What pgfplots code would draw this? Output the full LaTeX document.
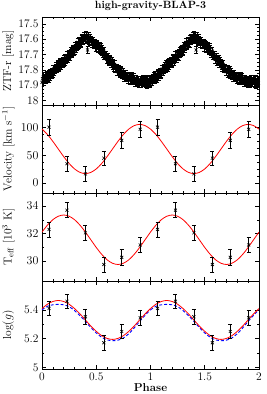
\documentclass[border=0pt]{standalone}
\usepackage{pgfplots}
\pgfplotsset{compat=1.18}
\usepackage{pgfplotstable}

\pgfplotstableread{
x y
0.00 17.882
0.01 17.858
0.02 17.866
0.03 17.843
0.04 17.863
0.05 17.847
0.06 17.857
0.07 17.823
0.08 17.832
0.09 17.812
0.10 17.822
0.11 17.795
0.12 17.800
0.13 17.774
0.14 17.791
0.15 17.772
0.16 17.783
0.17 17.750
0.18 17.760
0.19 17.741
0.20 17.752
0.21 17.726
0.22 17.732
0.23 17.707
0.24 17.725
0.25 17.707
0.26 17.715
0.27 17.679
0.28 17.686
0.29 17.664
0.30 17.672
0.31 17.644
0.32 17.648
0.33 17.621
0.34 17.637
0.35 17.617
0.36 17.627
0.37 17.593
0.38 17.602
0.39 17.582
0.40 17.592
0.41 17.578
0.42 17.596
0.43 17.583
0.44 17.613
0.45 17.607
0.46 17.631
0.47 17.611
0.48 17.634
0.49 17.628
0.50 17.652
0.51 17.638
0.52 17.656
0.53 17.643
0.54 17.673
0.55 17.667
0.56 17.695
0.57 17.679
0.58 17.706
0.59 17.704
0.60 17.732
0.61 17.720
0.62 17.740
0.63 17.729
0.64 17.761
0.65 17.757
0.66 17.783
0.67 17.765
0.68 17.790
0.69 17.786
0.70 17.812
0.71 17.798
0.72 17.816
0.73 17.803
0.74 17.833
0.75 17.827
0.76 17.849
0.77 17.827
0.78 17.848
0.79 17.840
0.80 17.862
0.81 17.845
0.82 17.860
0.83 17.844
0.84 17.871
0.85 17.862
0.86 17.882
0.87 17.858
0.88 17.877
0.89 17.867
0.90 17.887
0.91 17.867
0.92 17.879
0.93 17.860
0.94 17.884
0.95 17.872
0.96 17.889
0.97 17.862
0.98 17.878
0.99 17.865
}\lc

\pgfplotstableread{
x y
0.005 17.858
0.015 17.877
0.025 17.856
0.035 17.864
0.045 17.838
0.055 17.851
0.065 17.831
0.075 17.841
0.085 17.820
0.095 17.830
0.105 17.797
0.115 17.813
0.125 17.789
0.135 17.794
0.145 17.765
0.155 17.777
0.165 17.758
0.175 17.769
0.185 17.749
0.195 17.760
0.205 17.727
0.215 17.744
0.225 17.721
0.235 17.727
0.245 17.699
0.255 17.710
0.265 17.688
0.275 17.696
0.285 17.673
0.295 17.681
0.305 17.646
0.315 17.661
0.325 17.636
0.335 17.640
0.345 17.610
0.355 17.621
0.365 17.601
0.375 17.611
0.385 17.590
0.395 17.600
0.405 17.573
0.415 17.602
0.425 17.591
0.435 17.609
0.445 17.593
0.455 17.618
0.465 17.612
0.475 17.636
0.485 17.629
0.495 17.653
0.505 17.633
0.515 17.662
0.525 17.651
0.535 17.669
0.545 17.653
0.555 17.680
0.565 17.678
0.575 17.706
0.585 17.703
0.595 17.731
0.605 17.714
0.615 17.745
0.625 17.736
0.635 17.756
0.645 17.742
0.655 17.769
0.665 17.765
0.675 17.791
0.685 17.786
0.695 17.812
0.705 17.793
0.715 17.822
0.725 17.811
0.735 17.829
0.745 17.813
0.755 17.837
0.765 17.829
0.775 17.851
0.785 17.842
0.795 17.864
0.805 17.842
0.815 17.868
0.825 17.854
0.835 17.869
0.845 17.850
0.855 17.871
0.865 17.861
0.875 17.881
0.885 17.870
0.895 17.890
0.905 17.865
0.915 17.888
0.925 17.871
0.935 17.883
0.945 17.861
0.955 17.880
0.965 17.867
0.975 17.884
0.985 17.870
0.995 17.887
}\lcb

\pgfplotstableread{
x y e
0.065 101 15
0.230 35 14
0.400 16.5 13
0.570 45 13
0.735 77 14
0.905 97 15
1.065 101 15
1.230 35 14
1.400 16.5 13
1.570 45 13
1.735 77 14
1.905 97 15
}\vel

\pgfplotstableread{
x y e
0.065 32.30 0.55
0.230 33.70 0.55
0.400 32.05 0.55
0.570 29.75 0.55
0.735 30.27 0.55
0.905 31.17 0.55
1.065 32.30 0.55
1.230 33.70 0.55
1.400 32.05 0.55
1.570 29.75 0.55
1.735 30.27 0.55
1.905 31.17 0.55
}\teff

\pgfplotstableread{
x y e
0.065 5.410 0.05
0.230 5.460 0.05
0.400 5.352 0.05
0.570 5.172 0.05
0.735 5.250 0.05
0.905 5.345 0.05
1.065 5.410 0.05
1.230 5.460 0.05
1.400 5.352 0.05
1.570 5.172 0.05
1.735 5.250 0.05
1.905 5.345 0.05
}\logg

\pgfplotstableread{
x v t r b
0.00 97.5 32.11 5.409 5.400
0.05 87.7 32.61 5.439 5.425
0.10 75.25 33.01 5.458 5.435
0.15 61.5 33.26 5.465 5.438
0.20 47.75 33.35 5.458 5.435
0.25 35.3 33.26 5.439 5.422
0.30 25.5 33.01 5.409 5.395
0.35 19.2 32.61 5.372 5.360
0.40 17.0 32.11 5.330 5.320
0.45 19.2 31.55 5.288 5.278
0.50 25.5 30.99 5.251 5.240
0.55 35.3 30.49 5.221 5.210
0.60 47.75 30.09 5.202 5.192
0.65 61.5 29.84 5.195 5.186
0.70 75.25 29.75 5.202 5.190
0.75 87.7 29.84 5.221 5.205
0.80 97.5 30.09 5.251 5.235
0.85 103.8 30.49 5.288 5.275
0.90 106.0 30.99 5.330 5.320
0.95 103.8 31.55 5.372 5.362
1.00 97.5 32.11 5.409 5.400
}\model

\pgfplotsset{
  panel/.style={
    width=217pt, height=88pt, scale only axis,
    anchor=south west,
    xmin=0, xmax=2, xtick={0,0.5,1,1.5,2}, minor x tick num=4,
    tick align=inside, major tick length=4pt, minor tick length=2pt,
    every tick/.style={black, line width=0.5pt},
    axis line style={line width=0.5pt},
    xticklabels={},
    tick label style={font=\fontsize{11.5}{13}\selectfont},
    ylabel style={at={(axis description cs:-0.155,0.5)}, anchor=center,
      font=\fontsize{11.5}{13}\selectfont},
  },
  obs/.style={black, only marks, mark=x, mark size=2.1pt,
    mark options={line width=0.6pt, solid},
    /pgfplots/error bars/error bar style={line width=0.6pt, black, solid},
    /pgfplots/error bars/error mark options={rotate=90, mark size=2pt, line width=0.6pt, black}},
  fit/.style={red, line width=0.8pt, smooth, no markers},
}

\begin{document}
\begin{tikzpicture}
% Panel 1
\begin{axis}[panel, at={(0,264pt)},
  y dir=reverse, ymin=17.455, ymax=18.03,
  ytick={17.5,17.6,17.7,17.8,17.9,18},
  yticklabels={17.5,17.6,17.7,17.8,17.9,18},
  minor y tick num=3,
  ylabel={ZTF-r [mag]},
  title={\bfseries high-gravity-BLAP-3},
  title style={yshift=-3pt, font=\fontsize{10.5}{12}\selectfont}]
\addplot[obs, error bars/.cd, y dir=both, y fixed=0.025] table[x=x,y=y] {\lc};
\addplot[obs, error bars/.cd, y dir=both, y fixed=0.025] table[x expr=\thisrow{x}+1,y=y] {\lc};
\addplot[obs, error bars/.cd, y dir=both, y fixed=0.025] table[x=x,y=y] {\lcb};
\addplot[obs, error bars/.cd, y dir=both, y fixed=0.025] table[x expr=\thisrow{x}+1,y=y] {\lcb};
\addplot[obs, error bars/.cd, y dir=both, y fixed=0.025] coordinates {(0.42,17.67) (1.42,17.67) (0.97,17.895) (1.97,17.895) (0.63,17.73) (1.63,17.73)};
\end{axis}
% Panel 2
\begin{axis}[panel, at={(0,176pt)},
  ymin=-18, ymax=141, ytick={0,50,100}, minor y tick num=3,
  ylabel={Velocity [km s$^{-1}$]}]
\addplot[fit] table[x=x,y=v] {\model};
\addplot[fit] table[x expr=\thisrow{x}+1,y=v] {\model};
\addplot[obs, error bars/.cd, y dir=both, y explicit] table[x=x,y=y,y error=e] {\vel};
\end{axis}
% Panel 3
\begin{axis}[panel, at={(0,88pt)},
  ymin=28.55, ymax=34.95, ytick={30,32,34}, minor y tick num=1,
  ylabel={T$_{\mathrm{eff}}$ [10$^3$ K]}]
\addplot[fit] table[x=x,y=t] {\model};
\addplot[fit] table[x expr=\thisrow{x}+1,y=t] {\model};
\addplot[obs, error bars/.cd, y dir=both, y explicit] table[x=x,y=y,y error=e] {\teff};
\end{axis}
% Panel 4
\begin{axis}[panel, at={(0,0pt)},
  ymin=4.99, ymax=5.6, ytick={5,5.2,5.4}, yticklabels={5,5.2,5.4}, minor y tick num=1,
  xticklabels={0,0.5,1,1.5,2},
  ylabel={log($g$)},
  xlabel={\bfseries Phase}, xlabel style={yshift=4pt, font=\fontsize{11.5}{13}\selectfont}]
\addplot[blue, densely dashed, line width=0.9pt, smooth, no markers] table[x=x,y=b] {\model};
\addplot[blue, densely dashed, line width=0.9pt, smooth, no markers] table[x expr=\thisrow{x}+1,y=b] {\model};
\addplot[fit] table[x=x,y=r] {\model};
\addplot[fit] table[x expr=\thisrow{x}+1,y=r] {\model};
\addplot[obs, error bars/.cd, y dir=both, y explicit] table[x=x,y=y,y error=e] {\logg};
\end{axis}
\pgfresetboundingbox
\path[use as bounding box] (-42pt,-25pt) rectangle (224pt,369pt);
\end{tikzpicture}
\end{document}
